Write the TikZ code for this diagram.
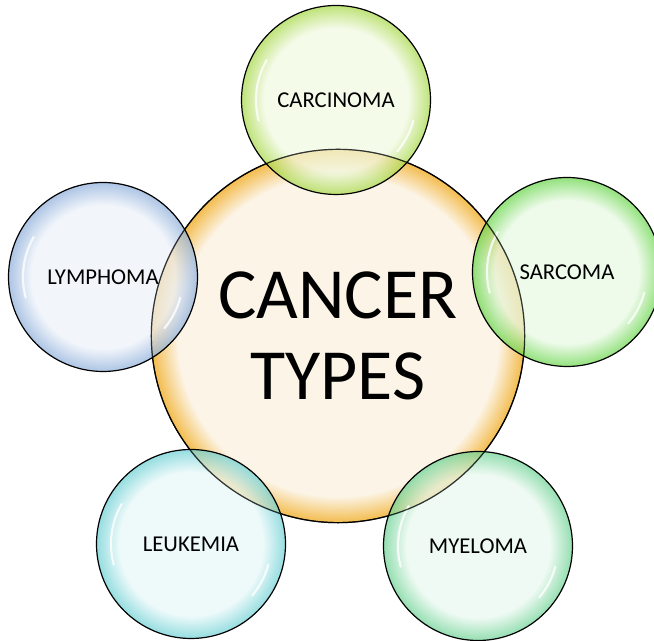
\documentclass[tikz,border=0pt]{standalone}
\usepackage{fontspec}
\setmainfont{Carlito}

\definecolor{coreIn}{HTML}{FCF4E6}
\definecolor{coreRim}{HTML}{F3BC4E}
\definecolor{carcRim}{HTML}{A6D846}
\definecolor{sarcRim}{HTML}{68D64A}
\definecolor{myelRim}{HTML}{6CD293}
\definecolor{leukRim}{HTML}{6CD0D4}
\definecolor{lymphRim}{HTML}{8DAEDA}

\colorlet{bubin}{white}
\colorlet{bubrim}{gray}
\pgfdeclareradialshading[bubin,bubrim]{bubble}{\pgfpoint{0bp}{0bp}}{%
  color(0bp)=(bubin); color(19bp)=(bubin); color(25bp)=(bubrim); color(50bp)=(bubrim)}
\pgfdeclareradialshading[bubin,bubrim]{corebubble}{\pgfpoint{0bp}{0bp}}{%
  color(0bp)=(bubin); color(21.5bp)=(bubin); color(25bp)=(bubrim); color(50bp)=(bubrim)}

\begin{document}
\begin{tikzpicture}[x=0.75pt, y=0.75pt,
    ball/.style={circle, draw=black, line width=0.9pt, inner sep=0pt,
      /utils/exec={\colorlet{bubin}{#1!16}\colorlet{bubrim}{#1}},
      shading=bubble, text opacity=1},
    core/.style={circle, draw=black, line width=0.9pt, inner sep=0pt,
      /utils/exec={\colorlet{bubin}{coreIn}\colorlet{bubrim}{coreRim}},
      shading=corebubble, minimum size=280pt, align=center,
      font=\fontsize{54}{61}\selectfont},
    sat/.style={ball=#1, minimum size=141.75pt, fill opacity=0.72,
      font=\fontsize{17}{20}\selectfont,
      path picture={
        \draw[white, opacity=0.8, line width=1.6pt, line cap=round]
          ([shift={(150:60pt)}]path picture bounding box.center)
          arc[start angle=150, end angle=195, radius=60pt];
        \draw[white, opacity=0.8, line width=1.6pt, line cap=round]
          ([shift={(-15:60pt)}]path picture bounding box.center)
          arc[start angle=-15, end angle=-40, radius=60pt];
      }}]
    \useasboundingbox (0,0) rectangle (654,641);

    \node[core] (types) at (338,305) {CANCER\\TYPES};

    \node[sat=carcRim]  (carcinoma) at (336,541) {CARCINOMA};
    \node[sat=sarcRim]  (sarcoma)   at (567,369) {SARCOMA};
    \node[sat=myelRim]  (myeloma)   at (478,95)  {MYELOMA};
    \node[sat=leukRim]  (leukemia)  at (191,97)  {LEUKEMIA};
    \node[sat=lymphRim] (lymphoma)  at (103,364) {LYMPHOMA};

    % core outline shows through the bubbles
    \draw[line width=0.9pt, opacity=0.7] (types.center) circle[radius=140pt];
\end{tikzpicture}
\end{document}
